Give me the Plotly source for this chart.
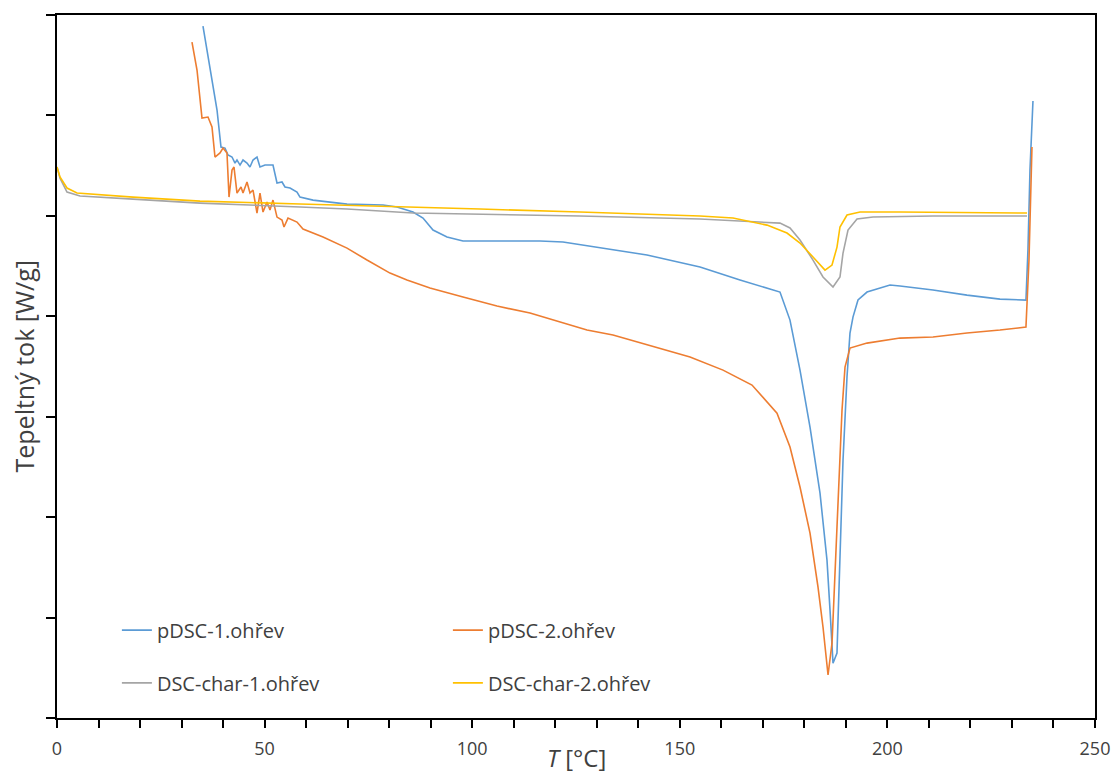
import plotly.graph_objects as go

# ---- data (T in °C, heat flow in arbitrary W/g units) ----
pdsc1_T = [35.16, 36.85, 38.54, 39.50, 40.46, 41.19, 42.15, 42.87, 43.35, 44.08, 44.80, 45.76,
           46.48, 47.21, 48.17, 48.89, 50.10, 51.30, 52.02, 52.99, 54.19, 54.91, 56.12, 57.80,
           58.52, 61.66, 69.85, 78.52, 81.89, 85.74, 88.15, 90.56, 93.93, 97.79, 105.97, 116.33,
           121.87, 130.06, 142.10, 154.87, 164.50, 174.13, 176.54, 178.95, 181.36, 183.77, 185.45,
           186.18, 186.90, 187.86, 188.58, 189.31, 190.27, 190.99, 191.71, 192.92, 195.09, 200.63,
           203.03, 210.98, 219.16, 227.11, 233.37, 233.85, 234.34, 235.06]
pdsc1_Q = [0.89, 0.452, 0.054, -0.315, -0.325, -0.394, -0.414, -0.474, -0.444, -0.494, -0.444, -0.474,
           -0.514, -0.444, -0.414, -0.514, -0.494, -0.494, -0.494, -0.673, -0.663, -0.713, -0.723, -0.763,
           -0.813, -0.843, -0.883, -0.892, -0.912, -0.962, -1.022, -1.141, -1.211, -1.251, -1.251, -1.251,
           -1.261, -1.311, -1.390, -1.510, -1.639, -1.759, -2.038, -2.536, -3.103, -3.761, -4.428,
           -4.926, -5.454, -5.354, -4.428, -3.432, -2.605, -2.167, -2.008, -1.838, -1.759, -1.689,
           -1.699, -1.739, -1.789, -1.829, -1.839, -1.341, -0.544, 0.143]

pdsc2_T = [32.51, 33.72, 34.92, 36.37, 37.33, 38.05, 39.26, 39.98, 40.94, 41.43, 42.15, 42.63,
           43.35, 44.32, 44.80, 45.76, 46.48, 47.21, 48.17, 48.89, 49.62, 50.58, 51.30, 52.02,
           52.99, 54.19, 54.67, 55.64, 57.80, 59.25, 64.07, 69.85, 74.66, 80.20, 84.29, 89.83,
           97.79, 105.97, 113.92, 121.87, 127.65, 133.91, 142.10, 152.46, 160.41, 167.39, 173.41,
           176.54, 178.95, 181.36, 183.29, 184.49, 185.70, 186.66, 187.86, 189.07, 189.79, 190.99,
           195.09, 203.03, 210.98, 219.16, 227.11, 233.37, 234.10, 234.82]
pdsc2_Q = [0.731, 0.452, -0.026, -0.016, -0.115, -0.414, -0.374, -0.325, -0.374, -0.813, -0.544, -0.514,
           -0.773, -0.713, -0.773, -0.663, -0.773, -0.743, -0.972, -0.773, -0.962, -0.862, -0.942, -0.843,
           -1.012, -1.042, -1.111, -1.022, -1.062, -1.131, -1.211, -1.321, -1.440, -1.570, -1.639, -1.719,
           -1.809, -1.898, -1.968, -2.068, -2.137, -2.187, -2.287, -2.406, -2.536, -2.685, -2.964,
           -3.302, -3.700, -4.159, -4.696, -5.094, -5.572, -5.255, -4.099, -2.934, -2.506, -2.316,
           -2.267, -2.217, -2.207, -2.167, -2.137, -2.107, -1.440, -0.315]

char1_T = [0.0, 0.72, 2.41, 5.54, 18.30, 34.44, 58.53, 69.85, 85.74, 101.88, 125.96, 154.87,
           174.13, 176.54, 178.95, 182.08, 184.49, 186.90, 188.58, 189.31, 190.51, 192.68, 196.53,
           210.98, 233.62]
char1_Q = [-0.514, -0.624, -0.763, -0.803, -0.833, -0.873, -0.912, -0.932, -0.972, -0.982, -1.002, -1.032,
           -1.072, -1.121, -1.241, -1.440, -1.609, -1.709, -1.609, -1.370, -1.141, -1.032, -1.012,
           -1.002, -1.002]

char2_T = [0.0, 0.72, 2.41, 4.82, 18.30, 34.44, 58.53, 77.80, 101.88, 125.96, 154.87, 162.81,
           171.00, 175.82, 178.95, 182.08, 184.97, 186.66, 187.86, 188.58, 190.27, 193.40, 203.03,
           233.62]
char2_Q = [-0.514, -0.613, -0.723, -0.773, -0.813, -0.853, -0.882, -0.902, -0.932, -0.962, -1.002, -1.022,
           -1.092, -1.171, -1.271, -1.410, -1.540, -1.490, -1.311, -1.111, -0.992, -0.962, -0.962,
           -0.972]

names = ["pDSC-1.ohřev", "pDSC-2.ohřev", "DSC-char-1.ohřev", "DSC-char-2.ohřev"]
colors = ["#5B9BD5", "#ED7D31", "#A5A5A5", "#FFC000"]
x_title = "<i>T</i> [°C]"
y_title = "Tepeltný tok [W/g]"

FONT = "Open Sans, DejaVu Sans, sans-serif"
TXT = "#404040"

fig = go.Figure()
series = [(pdsc1_T, pdsc1_Q, "legend"), (pdsc2_T, pdsc2_Q, "legend"),
          (char1_T, char1_Q, "legend2"), (char2_T, char2_Q, "legend2")]
for (xs, ys, lg), nm, col in zip(series, names, colors):
    fig.add_trace(go.Scatter(x=xs, y=ys, mode="lines", name=nm, legend=lg,
                             line=dict(color=col, width=1.6)))

leg_common = dict(orientation="h", xanchor="left", yanchor="middle",
                  bgcolor="rgba(0,0,0,0)", entrywidth=286, entrywidthmode="pixels",
                  font=dict(family=FONT, size=20, color=TXT))

fig.update_layout(
    width=1115, height=773,
    margin=dict(l=57, r=20, t=15, b=55, autoexpand=False),
    paper_bgcolor="white", plot_bgcolor="white",
    font=dict(family=FONT, color=TXT),
    legend=dict(x=0.0577, y=0.125, **leg_common),
    legend2=dict(x=0.0577, y=0.05, **leg_common),
    xaxis=dict(range=[0, 250], dtick=50, tick0=0, showgrid=False, zeroline=False,
               automargin=False,
               showline=True, linecolor="black", linewidth=2, mirror=True,
               ticks="outside", ticklen=8, tickcolor="black", tickwidth=1.5,
               ticklabelstandoff=5,
               minor=dict(dtick=10, ticks="outside", ticklen=8, tickcolor="black", tickwidth=1.5),
               tickfont=dict(family=FONT, size=18, color=TXT)),
    yaxis=dict(range=[-6, 1], dtick=1, tick0=0, showgrid=False, zeroline=False,
               automargin=False,
               showline=True, linecolor="black", linewidth=2, mirror=True,
               ticks="outside", ticklen=9, tickcolor="black", tickwidth=1.5,
               showticklabels=False),
    annotations=[
        dict(text=x_title, xref="paper", yref="paper", x=0.5, y=0, yshift=-39,
             xanchor="center", yanchor="middle", showarrow=False,
             font=dict(family=FONT, size=24, color=TXT)),
        dict(text=y_title, xref="paper", yref="paper", x=0, y=0.5, xshift=-34,
             xanchor="center", yanchor="middle", textangle=-90, showarrow=False,
             font=dict(family=FONT, size=25, color=TXT)),
    ],
)

fig.write_html("out.html", config={"displayModeBar": False},
               post_script="document.body.style.margin='0';document.body.style.overflow='hidden';")
